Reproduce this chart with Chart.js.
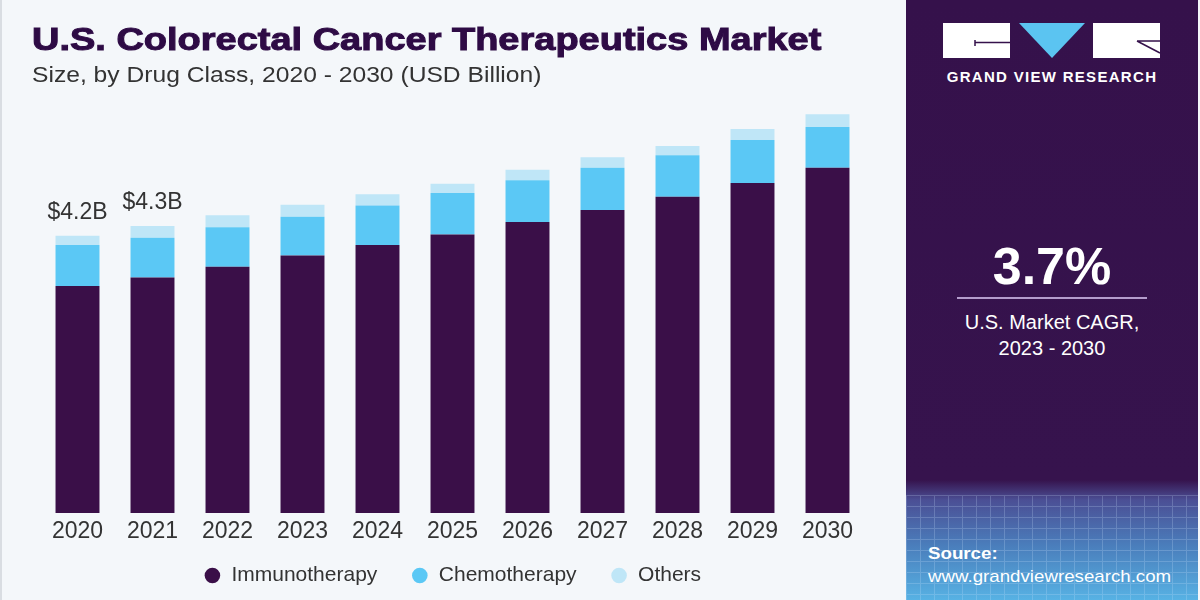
<!DOCTYPE html>
<html>
<head>
<meta charset="utf-8">
<script src="https://cdn.jsdelivr.net/npm/chart.js@4.4.0/dist/chart.umd.min.js"></script>
<style>
  html, body { margin: 0; padding: 0; }
  body { width: 1200px; height: 600px; position: relative; overflow: hidden; background: #f4f7fa; font-family: "Liberation Sans", Arial, sans-serif; }
  #leftEdge { position: absolute; left: 0; top: 0; width: 2px; height: 600px; background: #d9dde2; }
  #chartBox { position: absolute; left: 0; top: 0; width: 905px; height: 600px; }
  #title { position: absolute; left: 32px; top: 22px; font-size: 31px; font-weight: bold; color: #2e0b45; white-space: nowrap;
    -webkit-text-stroke: 1px #2e0b45; transform: scaleX(1.225); transform-origin: left top; }
  #subtitle { position: absolute; left: 32px; top: 62px; font-size: 22px; color: #333; white-space: nowrap; transform: scaleX(1.12); transform-origin: left top; }
  #panel { position: absolute; left: 906px; top: 0; width: 292px; height: 600px;
    background: linear-gradient(to bottom, #35114b 0px, #36134d 480px, #4b4f95 500px, #4a7dbb 545px, #57b2e4 600px); }
  #grid { position: absolute; left: 0; top: 495px; width: 292px; height: 105px; opacity: 0.22;
    background-image: repeating-linear-gradient(to right, #cfe6ff 0 1px, transparent 1px 14px),
                      repeating-linear-gradient(to bottom, #cfe6ff 0 1px, transparent 1px 11px); }
  #logo { position: absolute; left: 37px; top: 22px; }
  #brand { position: absolute; left: 0; width: 292px; top: 68px; text-align: center; color: #fff; font-weight: bold; font-size: 15px; letter-spacing: 1.3px; }
  #cagr { position: absolute; left: 0; width: 292px; top: 236px; text-align: center; color: #fff; font-weight: bold; font-size: 52px; }
  #rule { position: absolute; left: 51px; width: 190px; top: 297px; height: 2px; background: #b49ccc; }
  #cagrText { position: absolute; left: 0; width: 292px; top: 309px; text-align: center; color: #fff; font-size: 20px; line-height: 26px; }
  #source { position: absolute; left: 22px; top: 542px; color: #fff; font-size: 17px; line-height: 23px; transform: scaleX(1.1); transform-origin: left top; }
</style>
</head>
<body>
<div id="leftEdge"></div>
<div id="chartBox"><canvas id="marketChart" width="905" height="600"></canvas></div>
<div id="title">U.S. Colorectal Cancer Therapeutics Market</div>
<div id="subtitle">Size, by Drug Class, 2020 - 2030 (USD Billion)</div>
<div id="panel">
  <div id="grid"></div>
  <svg id="logo" width="220" height="40" viewBox="0 0 220 40">
    <rect x="0" y="1" width="67" height="35" fill="#fff"/>
    <path d="M32 18 V24 M32 20.5 H67" stroke="#35114b" stroke-width="1.5" fill="none"/>
    <polygon points="76,1 142,1 109,36" fill="#5bc4f1"/>
    <rect x="150" y="1" width="67" height="35" fill="#fff"/>
    <path d="M194 19 L217 31 M194 19 H217" stroke="#35114b" stroke-width="1.5" fill="none"/>
  </svg>
  <div id="brand">GRAND VIEW RESEARCH</div>
  <div id="cagr">3.7%</div>
  <div id="rule"></div>
  <div id="cagrText">U.S. Market CAGR,<br>2023 - 2030</div>
  <div id="source"><b>Source:</b><br>www.grandviewresearch.com</div>
</div>
<script>
const years = ['2020', '2021', '2022', '2023', '2024', '2025', '2026', '2027', '2028', '2029', '2030'];
const immunotherapy = [3.44, 3.57, 3.73, 3.90, 4.06, 4.22, 4.41, 4.59, 4.79, 5.00, 5.23];
const chemotherapy = [0.62, 0.60, 0.60, 0.59, 0.60, 0.63, 0.63, 0.64, 0.63, 0.65, 0.62];
const others = [0.14, 0.18, 0.18, 0.18, 0.17, 0.14, 0.16, 0.16, 0.14, 0.17, 0.19];
const totalLabels = ['$4.2B', '$4.3B'];

// writes the total above the first bars
const totalLabelPlugin = {
    id: 'totalLabels',
    afterDatasetsDraw(chart) {
        const ctx = chart.ctx;
        const meta = chart.getDatasetMeta(chart.data.datasets.length - 1);
        ctx.save();
        ctx.font = '23px "Liberation Sans", Arial, sans-serif';
        ctx.fillStyle = '#333';
        ctx.textAlign = 'center';
        ctx.textBaseline = 'bottom';
        totalLabels.forEach((text, i) => {
            const bar = meta.data[i];
            ctx.fillText(text, bar.x, bar.y - 12);
        });
        ctx.restore();
    }
};

const ctx = document.getElementById('marketChart').getContext('2d');
new Chart(ctx, {
    type: 'bar',
    data: {
        labels: years,
        datasets: [
            { label: 'Immunotherapy', data: immunotherapy, backgroundColor: '#3a0f48' },
            { label: 'Chemotherapy', data: chemotherapy, backgroundColor: '#5bc8f5' },
            { label: 'Others', data: others, backgroundColor: '#bfe6f7' }
        ]
    },
    options: {
        responsive: false,
        animation: false,
        layout: { padding: { top: 84, left: 40, right: 40, bottom: 4 } },
        datasets: { bar: { categoryPercentage: 1, barPercentage: 0.586 } },
        scales: {
            x: {
                stacked: true,
                grid: { display: false, drawTicks: false },
                border: { display: false },
                ticks: { color: '#333', padding: 5, font: { size: 23, family: '"Liberation Sans", Arial, sans-serif' } },
                afterFit(scale) { scale.height = 39; }
            },
            y: { stacked: true, display: false, min: 0, max: 6.5 }
        },
        plugins: {
            legend: {
                position: 'bottom',
                // empty title with negative padding: keeps the wide item spacing
                // without the same gap above the row
                title: { display: true, text: '', padding: { top: -12, bottom: -10 }, font: { size: 1, lineHeight: 1 } },
                labels: {
                    usePointStyle: true,
                    pointStyle: 'circle',
                    boxWidth: 17,
                    boxHeight: 11,
                    padding: 34,
                    color: '#333',
                    font: { size: 21, family: '"Liberation Sans", Arial, sans-serif' }
                }
            },
            tooltip: { enabled: false }
        }
    },
    plugins: [totalLabelPlugin]
});
</script>
</body>
</html>
